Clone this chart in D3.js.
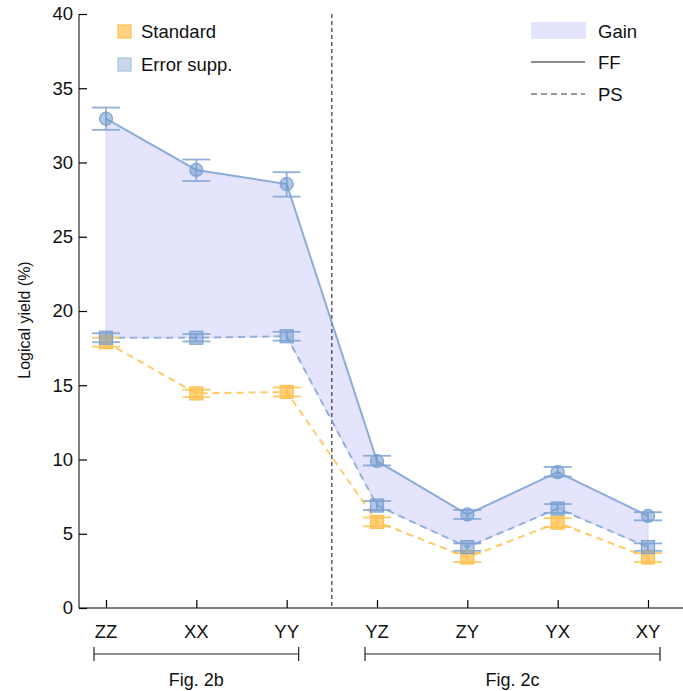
<!DOCTYPE html>
<meta charset="utf-8">
<head>
  <title>Logical yield</title>
  <script src="https://d3js.org/d3.v7.min.js"></script>
  <style>
    body { margin: 0; font-family: "Liberation Sans", Arial, sans-serif; }
    .axis line, .axis path { stroke: #000; }
    text { fill: #111; }
  </style>
</head>
<body>
<script>
  // Chart data
  var categories = ["ZZ", "XX", "YY", "YZ", "ZY", "YX", "XY"];
  var ffSupp = [32.95, 29.5, 28.55, 9.9, 6.3, 9.15, 6.2];
  var ffSuppLo = [32.2, 28.75, 27.7, 9.6, 6.0, 8.85, 5.9];
  var ffSuppHi = [33.7, 30.2, 29.35, 10.25, 6.6, 9.5, 6.45];
  var psSupp = [18.2, 18.2, 18.3, 6.9, 4.1, 6.7, 4.1];
  var psSuppErr = [0.3, 0.25, 0.3, 0.3, 0.25, 0.3, 0.25];
  var psStd = [17.9, 14.45, 14.55, 5.8, 3.4, 5.75, 3.4];
  var psStdErr = [0.3, 0.25, 0.3, 0.3, 0.3, 0.3, 0.3];
  var yTicks = [0, 5, 10, 15, 20, 25, 30, 35, 40];
  var groups = [
    {label: "Fig. 2b", from: "ZZ", to: "YY"},
    {label: "Fig. 2c", from: "YZ", to: "XY"}
  ];

  var width = 683, height = 691;
  var blue = "#7ea3d4", orange = "#ffc14f", gainFill = "#e4e4fc";

  var svg = d3.select("body").append("svg")
    .attr("width", width)
    .attr("height", height);

  var x = d3.scalePoint().domain(categories).range([106, 648]);
  var y = d3.scaleLinear().domain([0, 40]).range([608, 14]);

  // Gain area between FF and PS error-suppressed curves
  var idx = d3.range(categories.length);
  var area = d3.area()
    .x(function(i) { return x(categories[i]); })
    .y0(function(i) { return y(psSupp[i]); })
    .y1(function(i) { return y(ffSupp[i]); });
  svg.append("path")
    .datum(idx)
    .attr("d", area)
    .style("fill", gainFill)
    .style("stroke", "#d6d6f6")
    .style("stroke-width", 1);

  // Divider between the two figures
  var midX = (x("YY") + x("YZ")) / 2;
  svg.append("line")
    .attr("x1", midX).attr("x2", midX)
    .attr("y1", y(40)).attr("y2", y(0))
    .style("stroke", "#333")
    .style("stroke-width", 1.2)
    .style("stroke-dasharray", "4,3");

  var line = function(vals) {
    return d3.line()
      .x(function(i) { return x(categories[i]); })
      .y(function(i) { return y(vals[i]); })(idx);
  };

  // Lines
  svg.append("path").attr("d", line(psStd))
    .style("fill", "none").style("stroke", orange).style("stroke-width", 2)
    .style("stroke-dasharray", "7,5").style("opacity", 0.85);
  svg.append("path").attr("d", line(psSupp))
    .style("fill", "none").style("stroke", blue).style("stroke-width", 2)
    .style("stroke-dasharray", "7,5").style("opacity", 0.8);
  svg.append("path").attr("d", line(ffSupp))
    .style("fill", "none").style("stroke", blue).style("stroke-width", 2)
    .style("opacity", 0.85);

  // Error bars
  function errorBars(lo, hi, color) {
    var g = svg.append("g").style("stroke", color).style("stroke-width", 1.8).style("opacity", 0.85);
    idx.forEach(function(i) {
      var cx = x(categories[i]);
      g.append("line").attr("x1", cx).attr("x2", cx).attr("y1", y(lo[i])).attr("y2", y(hi[i]));
      g.append("line").attr("x1", cx - 14).attr("x2", cx + 14).attr("y1", y(lo[i])).attr("y2", y(lo[i]));
      g.append("line").attr("x1", cx - 14).attr("x2", cx + 14).attr("y1", y(hi[i])).attr("y2", y(hi[i]));
    });
  }
  errorBars(psStd.map(function(v, i) { return v - psStdErr[i]; }),
            psStd.map(function(v, i) { return v + psStdErr[i]; }), orange);
  errorBars(psSupp.map(function(v, i) { return v - psSuppErr[i]; }),
            psSupp.map(function(v, i) { return v + psSuppErr[i]; }), blue);
  errorBars(ffSuppLo, ffSuppHi, blue);

  // Markers
  svg.append("g").selectAll("rect.std")
    .data(idx).enter().append("rect")
    .attr("x", function(i) { return x(categories[i]) - 6.5; })
    .attr("y", function(i) { return y(psStd[i]) - 6.5; })
    .attr("width", 13).attr("height", 13)
    .style("fill", orange).style("fill-opacity", 0.75)
    .style("stroke", orange).style("stroke-width", 1.2);
  svg.append("g").selectAll("rect.supp")
    .data(idx).enter().append("rect")
    .attr("x", function(i) { return x(categories[i]) - 6.5; })
    .attr("y", function(i) { return y(psSupp[i]) - 6.5; })
    .attr("width", 13).attr("height", 13)
    .style("fill", "#6f9bcc").style("fill-opacity", 0.55)
    .style("stroke", "#7ea3d4").style("stroke-width", 1.2);
  svg.append("g").selectAll("circle")
    .data(idx).enter().append("circle")
    .attr("cx", function(i) { return x(categories[i]); })
    .attr("cy", function(i) { return y(ffSupp[i]); })
    .attr("r", 6.5)
    .style("fill", "#6f9bcc").style("fill-opacity", 0.55)
    .style("stroke", "#7ea3d4").style("stroke-width", 1.2);

  // Y axis (ticks inward)
  var yAxis = svg.append("g").attr("class", "axis")
    .attr("transform", "translate(79,0)")
    .call(d3.axisRight(y).tickValues(yTicks).tickSize(8).tickFormat(""));
  yAxis.select(".domain").attr("d", "M0," + y(40) + "V" + y(0));
  yAxis.selectAll(".tick line").style("stroke-width", 1.2);
  svg.append("g").selectAll("text.ytick")
    .data(yTicks).enter().append("text")
    .attr("x", 73).attr("y", function(d) { return y(d); })
    .attr("dy", "0.35em")
    .attr("text-anchor", "end")
    .style("font-size", "18.5px")
    .text(function(d) { return d; });

  // X axis (ticks inward)
  var xAxis = svg.append("g").attr("class", "axis")
    .attr("transform", "translate(0," + y(0) + ")")
    .call(d3.axisTop(x).tickSize(8).tickFormat(""));
  xAxis.select(".domain").attr("d", "M79,0H683");
  xAxis.selectAll(".tick line").style("stroke-width", 1.2);
  svg.append("g").selectAll("text.xtick")
    .data(categories).enter().append("text")
    .attr("x", function(d) { return x(d); })
    .attr("y", 638)
    .attr("text-anchor", "middle")
    .style("font-size", "18.5px")
    .text(function(d) { return d; });

  // Y label
  svg.append("text")
    .attr("transform", "translate(30," + (y(20) + 9) + ") rotate(-90)")
    .attr("text-anchor", "middle")
    .style("font-size", "16px")
    .text("Logical yield (%)");

  // Figure brackets
  groups.forEach(function(gr) {
    var x0 = x(gr.from) - 12, x1 = x(gr.to) + 12;
    var g = svg.append("g").style("stroke", "#222").style("stroke-width", 1.2);
    g.append("line").attr("x1", x0).attr("x2", x1).attr("y1", 654).attr("y2", 654);
    g.append("line").attr("x1", x0).attr("x2", x0).attr("y1", 647).attr("y2", 661);
    g.append("line").attr("x1", x1).attr("x2", x1).attr("y1", 647).attr("y2", 661);
    svg.append("text")
      .attr("x", (x0 + x1) / 2).attr("y", 686)
      .attr("text-anchor", "middle")
      .style("font-size", "18px")
      .text(gr.label);
  });

  // Legend left
  svg.append("rect").attr("x", 118).attr("y", 25).attr("width", 13).attr("height", 13)
    .style("fill", orange).style("fill-opacity", 0.7).style("stroke", orange).style("stroke-width", 1.2);
  svg.append("text").attr("x", 141).attr("y", 38).style("font-size", "18.5px").text("Standard");
  svg.append("rect").attr("x", 118).attr("y", 58).attr("width", 13).attr("height", 13)
    .style("fill", "#c8d7ea").style("stroke", "#aac2e0").style("stroke-width", 1.2);
  svg.append("text").attr("x", 141).attr("y", 71).style("font-size", "18.5px").text("Error supp.");

  // Legend right
  svg.append("rect").attr("x", 531).attr("y", 22).attr("width", 55).attr("height", 17)
    .style("fill", gainFill);
  svg.append("text").attr("x", 598).attr("y", 38).style("font-size", "18.5px").text("Gain");
  svg.append("line").attr("x1", 531).attr("x2", 585).attr("y1", 62).attr("y2", 62)
    .style("stroke", "#666").style("stroke-width", 1.5);
  svg.append("text").attr("x", 598).attr("y", 69).style("font-size", "18.5px").text("FF");
  svg.append("line").attr("x1", 531).attr("x2", 585).attr("y1", 94).attr("y2", 94)
    .style("stroke", "#777").style("stroke-width", 1.5).style("stroke-dasharray", "6,4");
  svg.append("text").attr("x", 598).attr("y", 101).style("font-size", "18.5px").text("PS");
</script>
</body>
</html>
